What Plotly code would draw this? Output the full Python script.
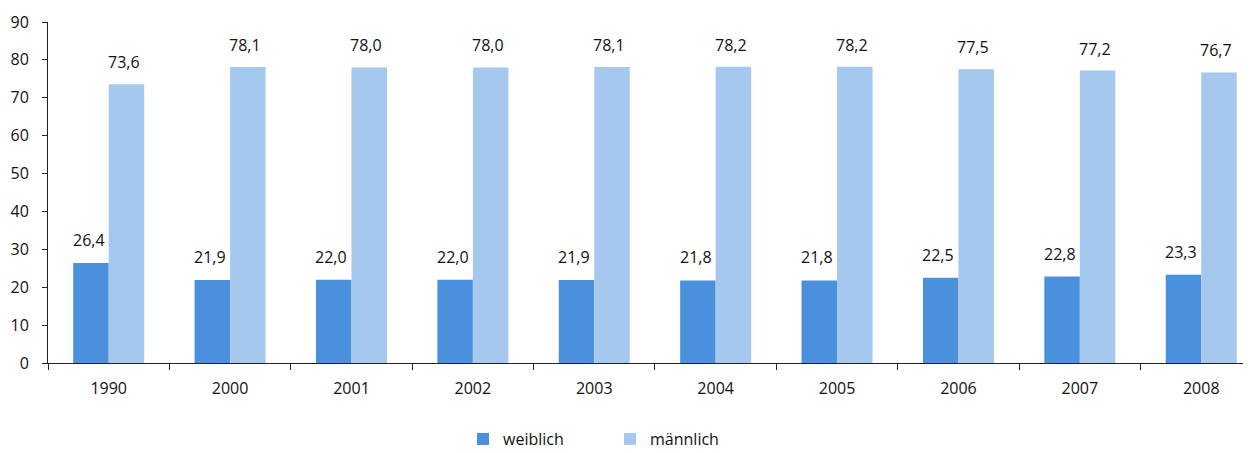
import plotly.graph_objects as go

years = ["1990", "2000", "2001", "2002", "2003", "2004", "2005", "2006", "2007", "2008"]
weiblich = [26.4, 21.9, 22.0, 22.0, 21.9, 21.8, 21.8, 22.5, 22.8, 23.3]
maennlich = [73.6, 78.1, 78.0, 78.0, 78.1, 78.2, 78.2, 77.5, 77.2, 76.7]
y_ticks = [0, 10, 20, 30, 40, 50, 60, 70, 80, 90]

C_W = "#4a90dc"
C_M = "#a6c8ee"
FONT = "Open Sans"

fig = go.Figure()
fig.add_trace(go.Bar(x=years, y=weiblich, name="weiblich", marker=dict(color=C_W, line_width=0)))
fig.add_trace(go.Bar(x=years, y=maennlich, name="männlich", marker=dict(color=C_M, line_width=0)))

def fmt(v):
    return f"{v:.1f}".replace(".", ",")

annotations = []
for i, y in enumerate(years):
    annotations.append(dict(x=i, y=weiblich[i], xref="x", yref="y", text=fmt(weiblich[i]),
                            showarrow=False, xshift=-20, yshift=23,
                            font=dict(family=FONT, size=16, color="#111")))
    annotations.append(dict(x=i, y=maennlich[i], xref="x", yref="y", text=fmt(maennlich[i]),
                            showarrow=False, xshift=15, yshift=22,
                            font=dict(family=FONT, size=16, color="#111")))

fig.update_layout(
    width=1243, height=445,
    margin=dict(l=40, r=0, t=14, b=90, autoexpand=False),
    paper_bgcolor="white", plot_bgcolor="white",
    barmode="group", bargap=0.415, bargroupgap=0,
    font=dict(family=FONT, size=16, color="#111"),
    annotations=annotations,
    showlegend=True,
    legend=dict(orientation="h", x=0.345, xanchor="left", y=-0.223, yanchor="middle",
                font=dict(family=FONT, size=16, color="#111"),
                entrywidth=102, entrywidthmode="pixels", itemsizing="constant"),
    xaxis=dict(type="category", range=[-0.5, 9.41], showline=True, linecolor="#222", linewidth=1,
               ticks="outside", tickson="boundaries", ticklen=6, tickcolor="#222",
               ticklabelstandoff=11,
               showgrid=False, zeroline=False, automargin=False),
    yaxis=dict(range=[0, 90], tickvals=y_ticks, showline=True, linecolor="#222", linewidth=1,
               ticks="outside", ticklen=5, tickcolor="#222", showgrid=False, zeroline=False,
               ticklabelstandoff=10, automargin=False),
)

fig.write_html("out.html")
